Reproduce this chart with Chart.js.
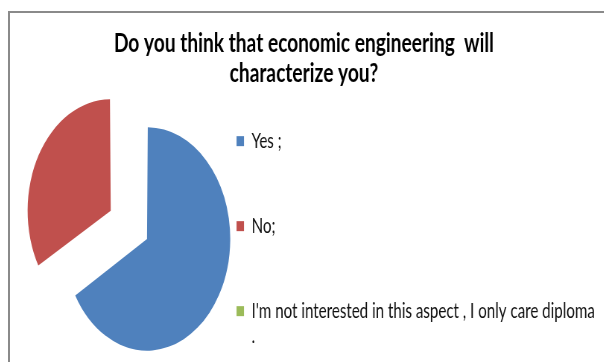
<!DOCTYPE html>
<html>
<head>
<meta charset="utf-8">
<script src="https://cdn.jsdelivr.net/npm/chart.js@4"></script>
<style>
  html, body { margin: 0; padding: 0; background: #fff; overflow: hidden; }
  body { width: 604px; height: 362px; position: relative; }
  /* frame of the chart area, only top and left edges show */
  .frame {
    position: absolute; left: 8px; top: 11px; width: 620px; height: 380px;
    border-left: 2px solid #8a8a8a; border-top: 2px solid #8a8a8a;
  }
  /* the original picture is squeezed horizontally, so draw wide and squeeze */
  .squeeze {
    position: absolute; left: 10px; top: 13px; width: 797px; height: 349px;
    transform: scaleX(0.745); transform-origin: 0 0;
  }
</style>
</head>
<body>
<div class="frame"></div>
<div class="squeeze"><canvas id="pie"></canvas></div>
<script>
// ---- data ----
const answers = ["Yes ;", "No;", "I'm not interested in this aspect , I only care diploma ."];
const shares = [66.7, 33.3, 0];
const sliceColors = ['#4F81BD', '#C0504D', '#9BBB59'];
const titleLines = ['Do you think that economic engineering  will', 'characterize you?'];

const FONT = 'Lato';
const TITLE_SHIFT = 34; // title is centred on the whole picture, pie sits left

// legend rows are tall in the original, pad short labels with empty lines
function legendLines(text) {
  if (text.endsWith(' .')) return [text.slice(0, -2), '.'];
  return [text, '', ''];
}

const titleShift = {
  id: 'titleShift',
  afterLayout(chart) {
    if (chart.titleBlock) {
      chart.titleBlock.left -= TITLE_SHIFT;
      chart.titleBlock.right -= TITLE_SHIFT;
    }
  },
};

new Chart(document.getElementById('pie'), {
  type: 'pie',
  data: {
    labels: answers,
    datasets: [{
      data: shares,
      backgroundColor: sliceColors,
      borderWidth: 0,
      // exploded slices
      offset: [27, 198, 0],
      radius: 105,
    }],
  },
  options: {
    responsive: true,
    maintainAspectRatio: false,
    animation: false,
    events: [],
    layout: { padding: { left: 62, right: 2, top: 0, bottom: 1 } },
    plugins: {
      tooltip: { enabled: false },
      title: {
        display: true,
        text: titleLines,
        color: '#000',
        font: { family: FONT, size: 25.7, weight: 'bold', lineHeight: 30 / 25.7 },
        padding: { top: 16, bottom: 21 },
      },
      legend: {
        position: 'right',
        align: 'end',
        maxWidth: 700,
        labels: {
          boxWidth: 10,
          boxHeight: 10,
          padding: 10,
          color: '#111',
          font: { family: FONT, size: 20.3, lineHeight: 25 / 20.3 },
          generateLabels: (chart) => {
            const items = Chart.overrides.pie.plugins.legend.labels.generateLabels(chart);
            items.forEach((it) => { it.text = legendLines(it.text); it.lineWidth = 0; });
            return items;
          },
        },
      },
    },
  },
  plugins: [titleShift],
});
</script>
</body>
</html>
